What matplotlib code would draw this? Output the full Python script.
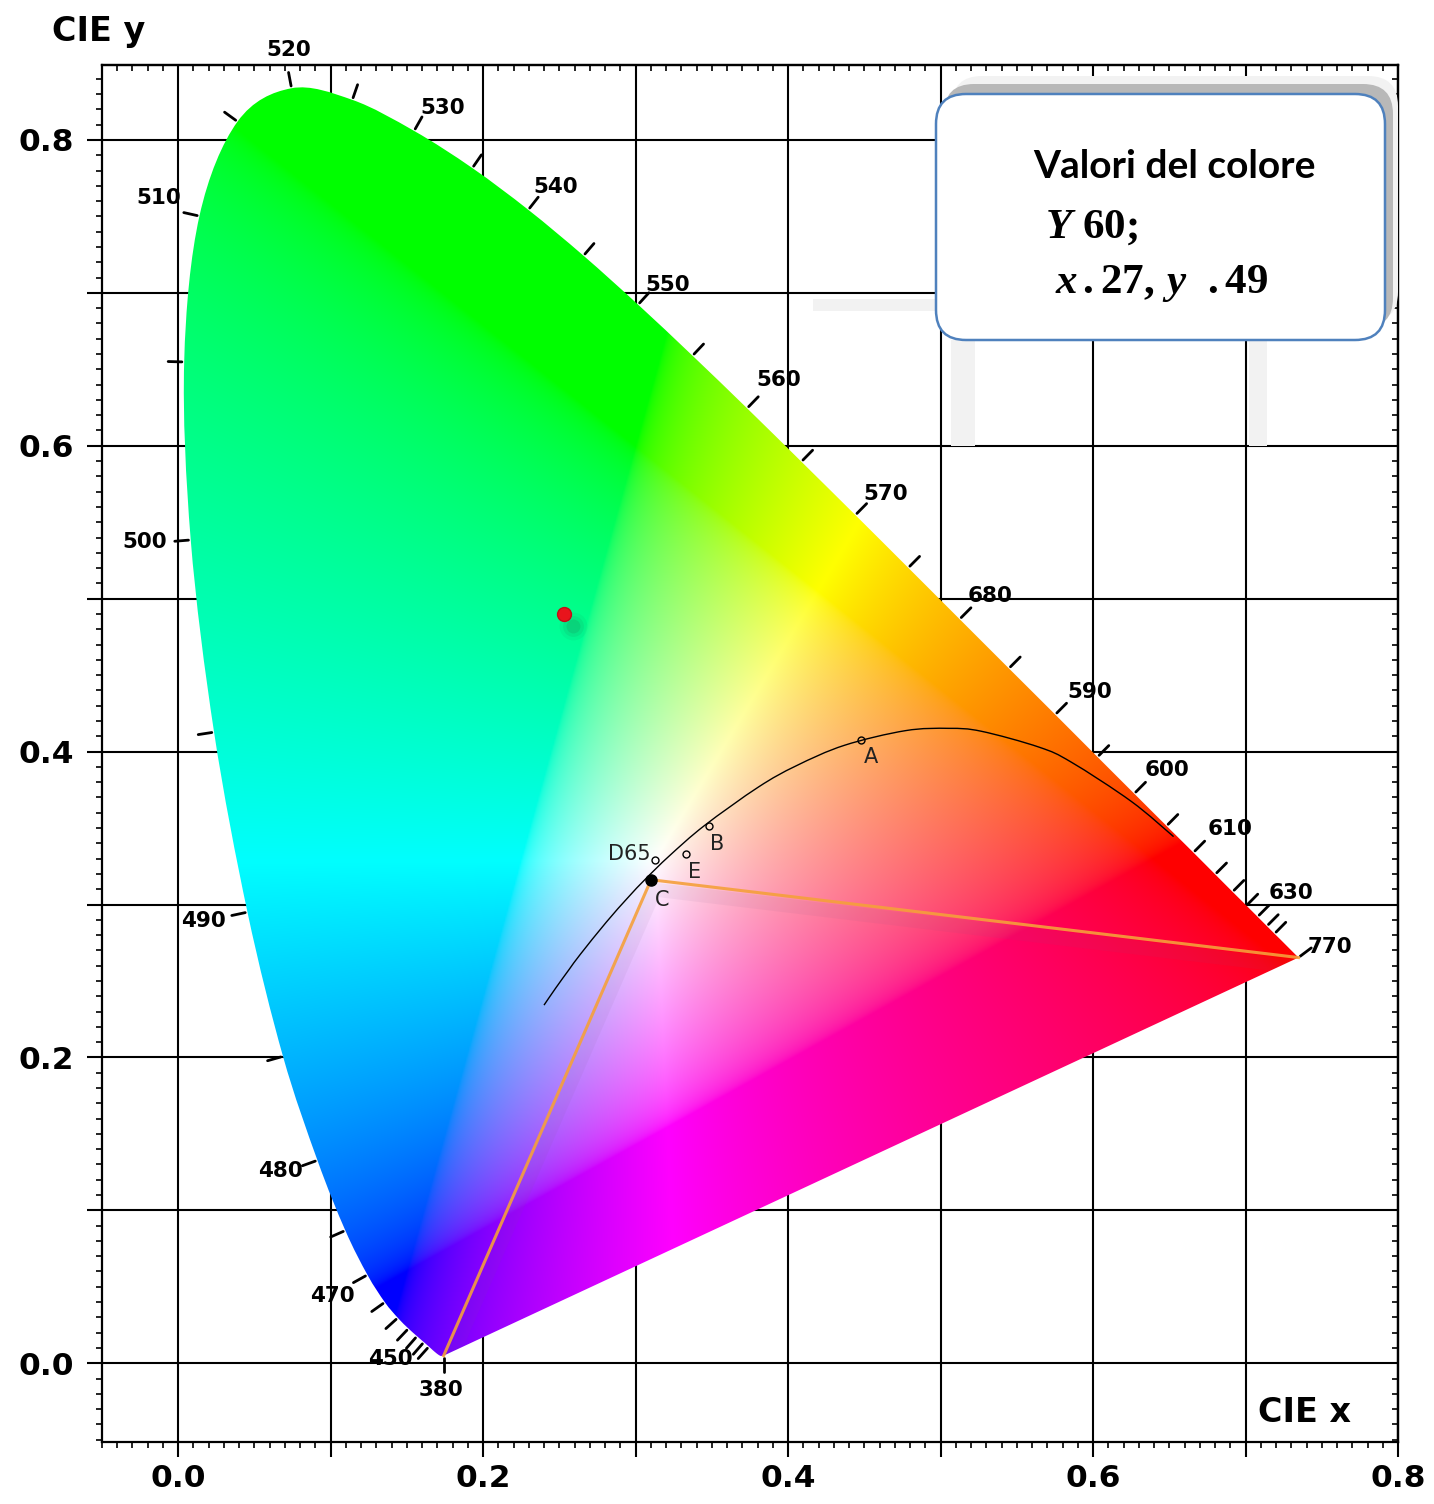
import numpy as np
import matplotlib
matplotlib.use("Agg")
import matplotlib.pyplot as plt
from matplotlib.patches import FancyBboxPatch, Rectangle, PathPatch
from matplotlib.path import Path
from matplotlib.ticker import MultipleLocator, NullFormatter
from matplotlib.transforms import IdentityTransform, Affine2D

# ---------------- data ----------------
wavelengths = [380, 385, 390, 395, 400, 405, 410, 415, 420, 425, 430, 435, 440, 445,
               450, 455, 460, 465, 470, 475, 480, 485, 490, 495, 500, 505, 510, 515,
               520, 525, 530, 535, 540, 545, 550, 555, 560, 565, 570, 575, 580, 585,
               590, 595, 600, 605, 610, 615, 620, 625, 630, 635, 640, 645, 650, 655,
               660, 665, 670, 675, 680, 685, 690, 695, 700]
locus_x = [0.1741, 0.1740, 0.1738, 0.1736, 0.1733, 0.1730, 0.1726, 0.1721, 0.1714, 0.1703,
           0.1689, 0.1669, 0.1644, 0.1611, 0.1566, 0.1510, 0.1440, 0.1355, 0.1241, 0.1096,
           0.0913, 0.0687, 0.0454, 0.0235, 0.0082, 0.0039, 0.0139, 0.0389, 0.0743, 0.1142,
           0.1547, 0.1929, 0.2296, 0.2658, 0.3016, 0.3373, 0.3731, 0.4087, 0.4441, 0.4788,
           0.5125, 0.5448, 0.5752, 0.6029, 0.6270, 0.6482, 0.6658, 0.6801, 0.6915, 0.7006,
           0.7079, 0.7140, 0.7190, 0.7230, 0.7260, 0.7283, 0.7300, 0.7311, 0.7320, 0.7327,
           0.7334, 0.7340, 0.7344, 0.7346, 0.7347]
locus_y = [0.0050, 0.0050, 0.0049, 0.0049, 0.0048, 0.0048, 0.0048, 0.0048, 0.0051, 0.0058,
           0.0069, 0.0086, 0.0109, 0.0138, 0.0177, 0.0227, 0.0297, 0.0399, 0.0578, 0.0868,
           0.1327, 0.2007, 0.2950, 0.4127, 0.5384, 0.6548, 0.7502, 0.8120, 0.8338, 0.8262,
           0.8059, 0.7816, 0.7543, 0.7243, 0.6923, 0.6589, 0.6245, 0.5896, 0.5547, 0.5202,
           0.4866, 0.4544, 0.4242, 0.3965, 0.3725, 0.3514, 0.3340, 0.3197, 0.3083, 0.2993,
           0.2920, 0.2859, 0.2809, 0.2770, 0.2740, 0.2717, 0.2700, 0.2689, 0.2680, 0.2673,
           0.2666, 0.2660, 0.2656, 0.2654, 0.2653]

tick_wavelengths = [380, 440, 445, 450, 455, 460, 465, 470, 475, 480, 485, 490, 495, 500,
                    505, 510, 515, 520, 525, 530, 535, 540, 545, 550, 555, 560, 565, 570,
                    575, 580, 585, 590, 595, 600, 605, 610, 615, 620, 625, 630, 635, 640, 700]
label_wavelengths = [380, 450, 470, 480, 490, 500, 510, 520, 530, 540, 550, 560, 570,
                     580, 590, 600, 610, 630, 700]
label_texts = ["380", "450", "470", "480", "490", "500", "510", "520", "530", "540",
               "550", "560", "570", "680", "590", "600", "610", "630", "770"]

planck_x = [0.2399, 0.2476, 0.2565, 0.2637, 0.2807, 0.2952, 0.3064, 0.3221, 0.3451,
            0.3805, 0.4053, 0.4369, 0.4770, 0.5054, 0.5267, 0.5646, 0.5857, 0.6251, 0.6528]
planck_y = [0.2342, 0.2454, 0.2577, 0.2674, 0.2884, 0.3048, 0.3166, 0.3318, 0.3516,
            0.3768, 0.3907, 0.4041, 0.4137, 0.4152, 0.4133, 0.4029, 0.3931, 0.3674, 0.3444]

illum_names = ["D65", "E", "B", "A"]
illum_x = [0.3127, 0.3333, 0.3484, 0.4476]
illum_y = [0.3290, 0.3333, 0.3516, 0.4074]
illum_c_x = [0.3101]
illum_c_y = [0.3162]

gamut_x = [0.1741, 0.3101, 0.7347]
gamut_y = [0.0050, 0.3162, 0.2653]

sample_x = [0.253]
sample_y = [0.490]

xtick_vals = [0.0, 0.1, 0.2, 0.3, 0.4, 0.5, 0.6, 0.7, 0.8]
xtick_labels = ["0.0", "", "0.2", "", "0.4", "", "0.6", "", "0.8"]
ytick_vals = [0.0, 0.1, 0.2, 0.3, 0.4, 0.5, 0.6, 0.7, 0.8]
ytick_labels = ["0.0", "", "0.2", "", "0.4", "", "0.6", "", "0.8"]

box_title = "Valori del colore"
box_line1 = r"$Y\ 60;$"
box_line2 = r"$x\,.27,\,y\ \ .49$"

# ---------------- figure ----------------
W, H = 1434, 1504
plt.rcParams["mathtext.fontset"] = "custom"
plt.rcParams["mathtext.rm"] = "Liberation Serif:bold"
plt.rcParams["mathtext.it"] = "Liberation Serif:italic:bold"
plt.rcParams["mathtext.bf"] = "Liberation Serif:bold"

fig = plt.figure(figsize=(W / 100, H / 100), dpi=100)
fig.patch.set_facecolor("white")


def fx(px):
    return px / W


def fy(py):
    return 1 - py / H


ax = fig.add_axes([fx(102), fy(1442), fx(1398) - fx(102), fy(65) - fy(1442)])
XMIN, XMAX, YMIN, YMAX = -0.05, 0.80, -0.0515, 0.849
ax.set_xlim(XMIN, XMAX)
ax.set_ylim(YMIN, YMAX)

# grid + ticks
ax.set_axisbelow(True)
ax.grid(True, which="major", color="black", lw=1.5, zorder=0)
ax.set_xticks(xtick_vals, labels=xtick_labels)
ax.set_yticks(ytick_vals, labels=ytick_labels)
ax.xaxis.set_minor_locator(MultipleLocator(0.01))
ax.yaxis.set_minor_locator(MultipleLocator(0.01))
ax.tick_params(which="major", direction="out", length=11, width=1.5,
               labelsize=22.5, pad=5, top=False, right=False)
ax.tick_params(axis="y", which="major", pad=9)
ax.tick_params(which="minor", direction="out", length=4.5, width=1.2, top=False, right=False)
for lab in ax.get_xticklabels() + ax.get_yticklabels():
    lab.set_fontweight("bold")
for s in ax.spines.values():
    s.set_linewidth(1.6)

secx = ax.secondary_xaxis("top")
secx.xaxis.set_major_locator(MultipleLocator(0.01))
secx.xaxis.set_major_formatter(NullFormatter())
secx.tick_params(direction="in", length=4, width=1.2)
secx.spines["top"].set_linewidth(1.6)
secy = ax.secondary_yaxis("right")
secy.yaxis.set_major_locator(MultipleLocator(0.01))
secy.yaxis.set_major_formatter(NullFormatter())
secy.tick_params(direction="in", length=4, width=1.2)
secy.spines["right"].set_linewidth(1.6)


def smooth_path_vertices(px, py):
    """Cubic Bezier (Catmull-Rom style) control points through the given points."""
    P = np.column_stack([px, py])
    n = len(P)
    verts = [P[0]]
    codes = [Path.MOVETO]
    for i in range(n - 1):
        p_prev = P[i - 1] if i > 0 else P[i]
        p_next2 = P[i + 2] if i + 2 < n else P[i + 1]
        c1 = P[i] + (P[i + 1] - p_prev) / 6.0
        c2 = P[i + 1] - (p_next2 - P[i]) / 6.0
        verts += [c1, c2, P[i + 1]]
        codes += [Path.CURVE4] * 3
    return verts, codes


# ---------------- colour fill ----------------
nx, ny = 900, 950
gx = np.linspace(XMIN, XMAX, nx)
gy = np.linspace(YMIN, YMAX, ny)
GX, GY = np.meshgrid(gx, gy)
yy = np.clip(GY, 1e-3, None)
Xc = GX / yy
Yc = np.ones_like(GX)
Zc = (1 - GX - GY) / yy
M = np.array([[3.2406, -1.5372, -0.4986],
              [-0.9689, 1.8758, 0.0415],
              [0.0557, -0.2040, 1.0570]])
rgb = np.stack([Xc, Yc, Zc], axis=-1) @ M.T
rgb = np.clip(rgb, 0, None)
rgb = rgb / np.maximum(rgb.max(axis=-1, keepdims=True), 1e-9)
rgb = np.where(rgb <= 0.0031308, 12.92 * rgb, 1.055 * np.power(rgb, 1 / 2.4) - 0.055)
rgb = np.clip(rgb, 0, 1)

im = ax.imshow(rgb, extent=(XMIN, XMAX, YMIN, YMAX), origin="lower",
               aspect="auto", interpolation="bilinear", zorder=1)
v, c = smooth_path_vertices(locus_x, locus_y)
v = v + [v[0]]
c = c + [Path.CLOSEPOLY]
locus_path = Path(np.array(v), c)
poly = PathPatch(locus_path, transform=ax.transData, facecolor="none", edgecolor="none")
ax.add_patch(poly)
im.set_clip_path(poly)
ax.set_xlim(XMIN, XMAX)
ax.set_ylim(YMIN, YMAX)

# ---------------- wavelength ticks + labels ----------------
lx = np.array(locus_x)
ly = np.array(locus_y)


def normal_at(i):
    if i == 0:
        return np.array([0.0, -1.0])
    if i == len(lx) - 1:
        return np.array([0.8, 0.6])
    tx = lx[i + 1] - lx[i - 1]
    ty = ly[i + 1] - ly[i - 1]
    n = np.array([-ty, tx])
    return n / np.hypot(*n)


for w in tick_wavelengths:
    i = wavelengths.index(w)
    n = normal_at(i)
    p0 = np.array([lx[i], ly[i]]) + n * 0.0015
    p1 = np.array([lx[i], ly[i]]) + n * 0.0105
    ax.plot([p0[0], p1[0]], [p0[1], p1[1]], color="black", lw=2.0,
            solid_capstyle="round", zorder=4)

label_offsets = {380: (-3, -34), 450: (-27, -23), 470: (-35, -21), 480: (-37, -11),
                 490: (-44, -9), 500: (-46, -2), 510: (-41, 18), 520: (-3, 38),
                 530: (29, 23), 540: (27, 23), 550: (30, 20), 560: (32, 28),
                 570: (30, 21), 580: (30, 23), 590: (35, 23), 600: (33, 24),
                 610: (37, 24), 630: (33, 24), 700: (32, 11)}
for w, t in zip(label_wavelengths, label_texts):
    i = wavelengths.index(w)
    ax.annotate(t, xy=(lx[i], ly[i]), xytext=label_offsets[w], textcoords="offset pixels",
                ha="center", va="center", fontsize=15.5, fontweight="bold", zorder=6)

# ---------------- planckian locus + illuminants ----------------
pv, pc = smooth_path_vertices(planck_x, planck_y)
ax.add_patch(PathPatch(Path(np.array(pv), pc), transform=ax.transData,
                       facecolor="none", edgecolor="black", lw=1.0, zorder=4))
ax.plot(illum_x, illum_y, linestyle="none", marker="o", ms=5, mfc="none",
        mec="black", mew=1.0, zorder=5)
ax.plot(illum_c_x, illum_c_y, linestyle="none", marker="o", ms=8, color="black", zorder=6)

illum_offsets = {"D65": (-4, 6, "right"), "E": (8, -18, "center"),
                 "B": (8, -18, "center"), "A": (10, -17, "center")}
for name, x, y in zip(illum_names, illum_x, illum_y):
    dx, dy, ha = illum_offsets[name]
    ax.annotate(name, xy=(x, y), xytext=(dx, dy), textcoords="offset pixels",
                ha=ha, va="center", fontsize=15, color="#222222", zorder=6)
ax.annotate("C", xy=(illum_c_x[0], illum_c_y[0]), xytext=(11, -20),
            textcoords="offset pixels", ha="center", va="center",
            fontsize=15, color="#222222", zorder=6)

# ---------------- gamut lines ----------------
sh = ax.plot(gamut_x, gamut_y, color="#7a5a8a", lw=10, alpha=0.07, zorder=3,
             solid_capstyle="butt",
             transform=ax.transData + Affine2D().translate(4, -10))[0]
sh.set_clip_path(poly)
ax.plot(gamut_x, gamut_y, color="#f5a03a", lw=2.2, alpha=0.9, zorder=5)

# ---------------- sample point ----------------
for r, a in [(20, 0.05), (15, 0.08), (10, 0.12)]:
    ax.plot(sample_x, sample_y, linestyle="none", marker="o", ms=r, color="#2a4a35",
            alpha=a, mec="none", zorder=5,
            transform=ax.transData + Affine2D().translate(9, -12))
ax.plot(sample_x, sample_y, linestyle="none", marker="o", ms=10, color="#e8141c",
        mec="#c01018", zorder=6)

# ---------------- axis titles ----------------
fig.text(fx(52), fy(32), "CIE y", fontsize=24, fontweight="bold", ha="left", va="center")
fig.text(fx(1258), fy(1413), "CIE x", fontsize=24, fontweight="bold", ha="left", va="center")

# ---------------- text box ----------------
idt = IdentityTransform()
for (x0, y0, w, h) in [(813, 299, 123, 12), (951, 340, 24, 106), (1249, 340, 18, 106)]:
    fig.add_artist(Rectangle((x0, H - y0 - h), w, h, transform=idt,
                             facecolor="#f2f2f2", edgecolor="none", zorder=7))
fig.add_artist(FancyBboxPatch((952, H - 322), 446, 246,
                              boxstyle="round,pad=0,rounding_size=30", transform=idt,
                              facecolor="#f2f2f2", edgecolor="none", zorder=7))
fig.add_artist(FancyBboxPatch((944, H - 328), 449, 244,
                              boxstyle="round,pad=0,rounding_size=30", transform=idt,
                              facecolor="#b8b8b8", edgecolor="none", zorder=7))
fig.add_artist(FancyBboxPatch((936, H - 340), 449, 246,
                              boxstyle="round,pad=0,rounding_size=30", transform=idt,
                              facecolor="white", edgecolor="#4f81bd", lw=1.8, zorder=8))
fig.text(fx(1174), fy(166), box_title, fontsize=28, fontweight="bold",
         family="Lato", ha="center", va="center", zorder=9)
fig.text(fx(1045), fy(226), box_line1, fontsize=31, ha="left", va="center", zorder=9)
fig.text(fx(1055), fy(283), box_line2, fontsize=31, ha="left", va="center", zorder=9)

fig.savefig("out.png", dpi=100, facecolor="white")
